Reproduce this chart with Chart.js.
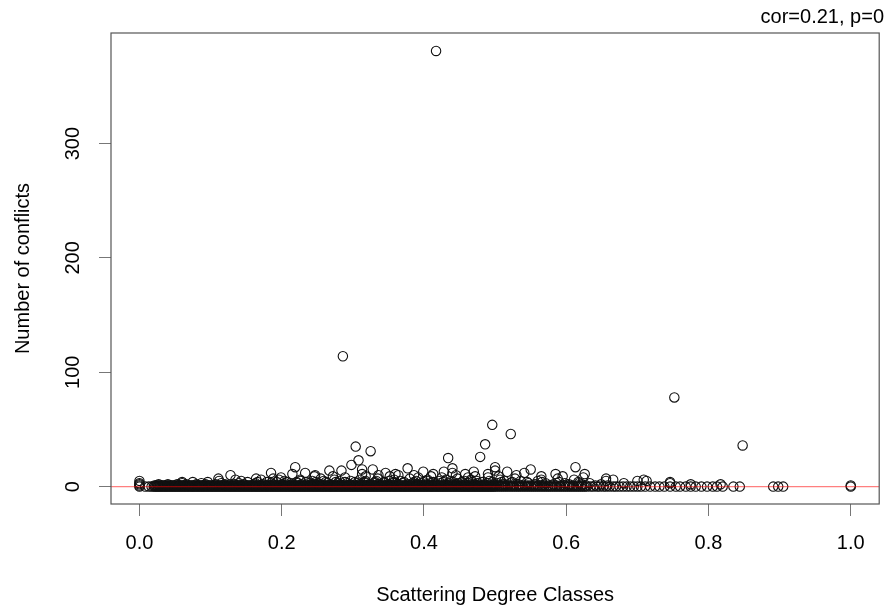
<!DOCTYPE html>
<html>
<head>
<meta charset="utf-8">
<title>Conflicts vs scattering degree</title>
<script src="https://cdn.jsdelivr.net/npm/chart.js@4.4.1/dist/chart.umd.min.js"></script>
<style>
    html, body { margin: 0; padding: 0; background: #fff; }
    #wrap { width: 885px; height: 609px; }
</style>
</head>
<body>
<div id="wrap"><canvas id="plot" width="885" height="609"></canvas></div>
<script>
// Axis ticks
const xTicks = [0, 0.2, 0.4, 0.6, 0.8, 1.0];
const yTicks = [0, 100, 200, 300];
const xLimits = [-0.04, 1.04];
const yLimits = [-15.2, 396.7];

// Classes with zero conflicts
const zeroX = [0, 0.008, 0.013, 0.017,
    0.020, 0.022, 0.024, 0.026, 0.028, 0.030, 0.032, 0.034, 0.036, 0.038, 0.040, 0.042, 0.044, 0.046, 0.048, 0.050,
    0.052, 0.054, 0.056, 0.058, 0.060, 0.062, 0.064, 0.066, 0.068, 0.070, 0.072, 0.074, 0.076, 0.078, 0.080, 0.082,
    0.084, 0.086, 0.088, 0.090, 0.092, 0.094, 0.096, 0.098, 0.100, 0.102, 0.104, 0.106, 0.108, 0.110, 0.112, 0.114,
    0.116, 0.118, 0.120, 0.122, 0.124, 0.126, 0.128, 0.130, 0.132, 0.134, 0.136, 0.138, 0.140, 0.142, 0.144, 0.146,
    0.148, 0.150, 0.152, 0.154, 0.156, 0.158, 0.160, 0.162, 0.164, 0.166, 0.168, 0.170, 0.172, 0.174, 0.176, 0.178,
    0.180, 0.182, 0.184, 0.186, 0.188, 0.190, 0.192, 0.194, 0.196, 0.198, 0.200, 0.202, 0.204, 0.206, 0.208, 0.210,
    0.212, 0.214, 0.216, 0.218, 0.220, 0.222, 0.224, 0.226, 0.228, 0.230, 0.232, 0.234, 0.236, 0.238, 0.240, 0.242,
    0.244, 0.246, 0.248, 0.250, 0.252, 0.254, 0.256, 0.258, 0.260, 0.262, 0.264, 0.266, 0.268, 0.270, 0.272, 0.274,
    0.276, 0.278, 0.280, 0.282, 0.284, 0.286, 0.288, 0.290, 0.292, 0.294, 0.296, 0.298, 0.300, 0.302, 0.304, 0.306,
    0.308, 0.310, 0.312, 0.314, 0.316, 0.318, 0.320, 0.322, 0.324, 0.326, 0.328, 0.330, 0.332, 0.334, 0.336, 0.338,
    0.340, 0.342, 0.344, 0.346, 0.348, 0.350, 0.352, 0.354, 0.356, 0.358, 0.360, 0.362, 0.364, 0.366, 0.368, 0.370,
    0.372, 0.374, 0.376, 0.378, 0.380, 0.382, 0.384, 0.386, 0.388, 0.390, 0.392, 0.394, 0.396, 0.398, 0.400, 0.402,
    0.404, 0.406, 0.408, 0.410, 0.412, 0.414, 0.416, 0.418, 0.420, 0.422, 0.424, 0.426, 0.428, 0.430, 0.432, 0.434,
    0.436, 0.438, 0.440, 0.442, 0.444, 0.446, 0.448, 0.450, 0.452, 0.454, 0.456, 0.458, 0.460, 0.462, 0.464, 0.466,
    0.468, 0.470, 0.472, 0.474, 0.476, 0.478, 0.480, 0.482, 0.484, 0.486, 0.488, 0.490, 0.492, 0.494, 0.496, 0.498,
    0.500, 0.503, 0.506, 0.509, 0.512, 0.515, 0.518, 0.521, 0.524, 0.527, 0.530, 0.533, 0.536, 0.539, 0.542, 0.545,
    0.548, 0.551, 0.554, 0.557, 0.560, 0.563, 0.566, 0.569, 0.572, 0.575, 0.578, 0.581, 0.584, 0.587, 0.590, 0.593,
    0.596, 0.599, 0.602, 0.605, 0.608, 0.611, 0.614, 0.617, 0.620, 0.623, 0.626, 0.629,
    0.634, 0.638, 0.643, 0.647, 0.652, 0.656, 0.661, 0.666, 0.670, 0.675, 0.680, 0.685, 0.690,
    0.695, 0.700, 0.705, 0.711, 0.718, 0.725, 0.731, 0.738, 0.746, 0.754, 0.760, 0.768, 0.775, 0.782, 0.790, 0.798,
    0.806, 0.812, 0.820, 0.835, 0.844, 0.891, 0.898, 0.905, 1.0];

// One conflict
const oneX = [0,
    0.021, 0.023, 0.025, 0.027, 0.029, 0.031, 0.033, 0.035, 0.037, 0.039, 0.041, 0.043, 0.045, 0.047, 0.049, 0.051,
    0.053, 0.055, 0.057, 0.059, 0.061, 0.063, 0.065, 0.067, 0.069, 0.071, 0.073, 0.075, 0.077, 0.079, 0.081, 0.083,
    0.085, 0.087, 0.089, 0.091, 0.093, 0.095, 0.097, 0.099, 0.101, 0.103, 0.105, 0.107, 0.109, 0.111, 0.113, 0.115,
    0.117, 0.119, 0.121, 0.123, 0.125, 0.127, 0.129, 0.131, 0.133, 0.135, 0.137, 0.139, 0.141, 0.143, 0.145, 0.147,
    0.149, 0.151, 0.153, 0.155, 0.157, 0.159, 0.161, 0.163, 0.165, 0.167, 0.169, 0.171, 0.173, 0.175, 0.177, 0.179,
    0.181, 0.183, 0.185, 0.187, 0.189, 0.191, 0.193, 0.195, 0.197, 0.199, 0.201, 0.203, 0.205, 0.207, 0.209, 0.211,
    0.213, 0.215, 0.217, 0.219, 0.221, 0.223, 0.225, 0.227, 0.229, 0.231, 0.233, 0.235, 0.237, 0.239, 0.241, 0.243,
    0.245, 0.247, 0.249, 0.251, 0.253, 0.255, 0.257, 0.259, 0.261, 0.263, 0.265, 0.267, 0.269, 0.271, 0.273, 0.275,
    0.277, 0.279, 0.281, 0.283, 0.285, 0.287, 0.289, 0.291, 0.293, 0.295, 0.297, 0.299, 0.301, 0.303, 0.305, 0.307,
    0.309, 0.311, 0.313, 0.315, 0.317, 0.319, 0.321, 0.323, 0.325, 0.327, 0.329, 0.331, 0.333, 0.335, 0.337, 0.339,
    0.341, 0.343, 0.345, 0.347, 0.349, 0.351, 0.353, 0.355, 0.357, 0.359, 0.361, 0.363, 0.365, 0.367, 0.369, 0.371,
    0.373, 0.375, 0.377, 0.379, 0.381, 0.383, 0.385, 0.387, 0.389, 0.391, 0.393, 0.395, 0.397, 0.399, 0.401, 0.403,
    0.405, 0.407, 0.409, 0.411, 0.413, 0.415, 0.417, 0.419, 0.421, 0.423, 0.425, 0.427, 0.429, 0.431, 0.433, 0.435,
    0.437, 0.439, 0.441, 0.443, 0.445, 0.447, 0.449, 0.451, 0.453, 0.455, 0.457, 0.459, 0.461, 0.463, 0.465, 0.467,
    0.469, 0.471, 0.473, 0.475, 0.477, 0.479, 0.481, 0.483, 0.485, 0.487, 0.489, 0.491, 0.493, 0.495, 0.497, 0.499,
    0.502, 0.505, 0.508, 0.511, 0.514, 0.518, 0.522, 0.526, 0.530, 0.534, 0.538, 0.542, 0.546, 0.550, 0.555, 0.560,
    0.565, 0.570, 0.575, 0.580, 0.586, 0.592, 0.598, 0.604, 0.610, 0.616, 0.622, 0.628, 0.641, 0.658, 1.0];

// Two conflicts
const twoX = [0, 0.027, 0.040, 0.053, 0.066, 0.080, 0.093, 0.107, 0.120, 0.134, 0.147, 0.161, 0.174, 0.188, 0.201,
    0.215, 0.228, 0.242, 0.255, 0.269, 0.282, 0.296, 0.309, 0.323, 0.336, 0.350, 0.363, 0.377, 0.390, 0.404, 0.417,
    0.431, 0.444, 0.458, 0.471, 0.485, 0.498, 0.512, 0.533, 0.556, 0.582, 0.604, 0.622, 0.649, 0.775, 0.817];

// Three conflicts
const threeX = [0, 0.060, 0.087, 0.115, 0.140, 0.163, 0.185, 0.204, 0.222, 0.238, 0.251, 0.264, 0.279, 0.292, 0.306,
    0.318, 0.331, 0.345, 0.357, 0.370, 0.384, 0.396, 0.409, 0.423, 0.435, 0.448, 0.462, 0.475, 0.489, 0.503, 0.521,
    0.547, 0.571, 0.598, 0.618, 0.633, 0.681, 0.746];

// Four conflicts
const fourX = [0.152, 0.166, 0.179, 0.193, 0.207, 0.221, 0.234, 0.248, 0.262, 0.276, 0.289, 0.303, 0.317, 0.331,
    0.344, 0.358, 0.372, 0.386, 0.399, 0.413, 0.427, 0.441, 0.454, 0.468, 0.482, 0.496, 0.509, 0.524, 0.545, 0.566,
    0.590, 0.617];

// Five conflicts
const fiveX = [0.204, 0.226, 0.243, 0.259, 0.281, 0.297, 0.318, 0.333, 0.351, 0.367, 0.389, 0.404, 0.421, 0.438,
    0.457, 0.474, 0.492, 0.513, 0.536];

// Classes with six or more conflicts (plus a few low ones at the edges)
const spreadX = [0, 0.075, 0.096, 0.111, 0.128, 0.143, 0.164, 0.185, 0.188, 0.199, 0.215, 0.219, 0.233, 0.246,
    0.267, 0.284, 0.298, 0.304, 0.308, 0.325, 0.313, 0.328, 0.313, 0.346, 0.364, 0.377, 0.399, 0.413, 0.428, 0.434,
    0.440, 0.440, 0.458, 0.472, 0.479, 0.486, 0.496, 0.500, 0.500, 0.517, 0.522, 0.541, 0.550, 0.560, 0.595, 0.613,
    0.626, 0.624, 0.611, 0.656, 0.656, 0.709, 0.713, 0.746, 0.752, 0.848, 0.286, 0.417,
    0.060, 0.112, 0.135, 0.171, 0.196, 0.226, 0.247, 0.255, 0.272, 0.274, 0.289,
    0.310, 0.318, 0.335, 0.336, 0.352, 0.358, 0.360, 0.380, 0.386, 0.392, 0.405,
    0.410, 0.425, 0.431, 0.445, 0.447, 0.462, 0.466, 0.470, 0.490, 0.490, 0.505, 0.507,
    0.528, 0.530, 0.565, 0.565, 0.585, 0.588, 0.666, 0.700];
const spreadY = [5, 4, 4, 7, 10, 5, 7, 12, 7, 8, 11, 17, 12, 9,
    14, 14, 19, 35, 23, 31, 15, 15, 11, 12, 10, 16, 13, 11, 13, 25,
    16, 12, 11, 9, 26, 37, 54, 17, 14, 13, 46, 12, 15, 5, 9, 17,
    11, 8, 6, 7, 5, 6, 5, 4, 78, 36, 114, 381,
    4, 5, 6, 6, 6, 6, 10, 7, 9, 6, 8,
    6, 9, 7, 10, 9, 6, 11, 7, 10, 8, 6,
    9, 8, 6, 10, 7, 8, 6, 13, 8, 11, 9, 6,
    7, 10, 6, 9, 11, 7, 6, 5];

// Fitted line at the two x limits
const fitY = [0, 0];

const points = [].concat(
    zeroX.map(x => ({ x: x, y: 0 })),
    oneX.map(x => ({ x: x, y: 1 })),
    twoX.map(x => ({ x: x, y: 2 })),
    threeX.map(x => ({ x: x, y: 3 })),
    fourX.map(x => ({ x: x, y: 4 })),
    fiveX.map(x => ({ x: x, y: 5 })),
    spreadX.map((x, i) => ({ x: x, y: spreadY[i] }))
);

const FONT = "'Liberation Sans', Arial, Helvetica, sans-serif";

// plot frame like R's box()
const boxPlugin = {
    id: 'box',
    afterDraw(chart) {
        const { ctx, chartArea: a } = chart;
        ctx.save();
        ctx.strokeStyle = '#555';
        ctx.lineWidth = 1.2;
        ctx.strokeRect(a.left, a.top, a.right - a.left, a.bottom - a.top);
        ctx.restore();
    }
};

new Chart(document.getElementById('plot'), {
    type: 'scatter',
    data: {
        datasets: [
            {
                type: 'line',
                data: [{ x: xLimits[0], y: fitY[0] }, { x: xLimits[1], y: fitY[1] }],
                borderColor: 'rgba(255,0,0,0.5)',
                borderWidth: 1.2,
                pointRadius: 0,
                fill: false
            },
            {
                data: points,
                pointStyle: 'circle',
                pointRadius: 4.7,
                borderWidth: 1.1,
                borderColor: '#111',
                backgroundColor: 'rgba(0,0,0,0)'
            }
        ]
    },
    options: {
        responsive: false,
        animation: false,
        layout: { padding: { left: 0, right: 1, top: 0, bottom: 0 } },
        plugins: {
            legend: { display: false },
            tooltip: { enabled: false },
            title: {
                display: true,
                text: 'cor=0.21, p=0',
                align: 'end',
                color: '#000',
                font: { family: FONT, size: 20, weight: 'normal' },
                padding: { top: 5, bottom: 4 }
            }
        },
        scales: {
            x: {
                type: 'linear',
                min: xLimits[0],
                max: xLimits[1],
                afterBuildTicks: s => { s.ticks = xTicks.map(v => ({ value: v })); },
                afterFit: s => { s.height = 105; },
                border: { display: false },
                grid: { drawOnChartArea: false, drawTicks: true, tickLength: 12, color: '#777' },
                ticks: {
                    color: '#000',
                    font: { family: FONT, size: 20 },
                    padding: 15,
                    maxRotation: 0,
                    callback: v => v.toFixed(1)
                },
                title: {
                    display: true,
                    text: 'Scattering Degree Classes',
                    color: '#000',
                    font: { family: FONT, size: 20 },
                    padding: { top: 0, bottom: 2 }
                }
            },
            y: {
                type: 'linear',
                min: yLimits[0],
                max: yLimits[1],
                afterBuildTicks: s => { s.ticks = yTicks.map(v => ({ value: v })); },
                afterFit: s => { s.width = 111; },
                border: { display: false },
                grid: { drawOnChartArea: false, drawTicks: true, tickLength: 12, color: '#777' },
                ticks: {
                    color: '#000',
                    font: { family: FONT, size: 20 },
                    padding: 9,
                    minRotation: 90,
                    maxRotation: 90,
                    crossAlign: 'center'
                },
                title: {
                    display: true,
                    text: 'Number of conflicts',
                    color: '#000',
                    font: { family: FONT, size: 20 },
                    padding: { top: 11, bottom: 0 }
                }
            }
        }
    },
    plugins: [boxPlugin]
});
</script>
</body>
</html>
